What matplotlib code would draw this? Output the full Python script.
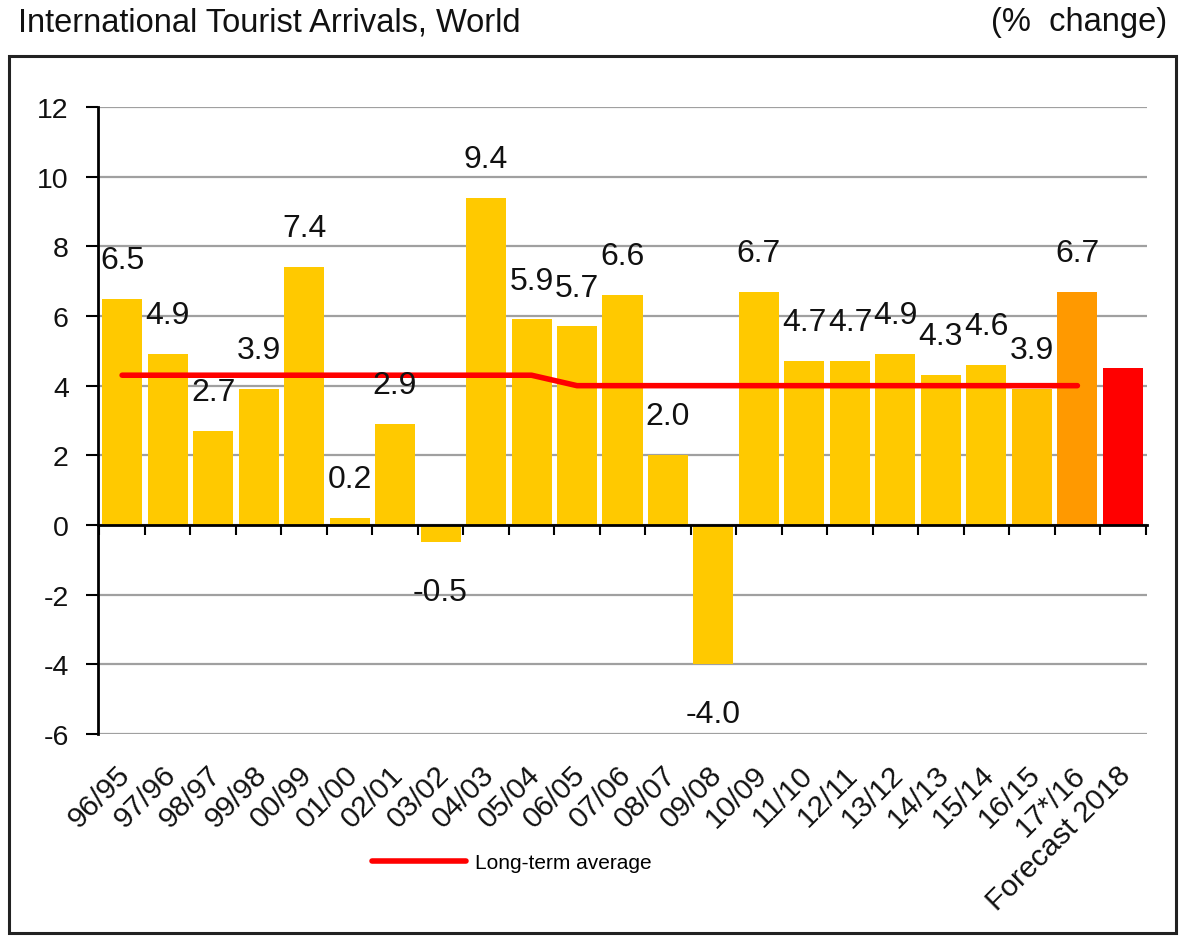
import numpy as np
import matplotlib
matplotlib.use("Agg")
import matplotlib.pyplot as plt
from matplotlib import font_manager
from matplotlib.transforms import ScaledTranslation
from matplotlib.patches import Rectangle

# ---------------- data ----------------
categories = ['96/95', '97/96', '98/97', '99/98', '00/99', '01/00', '02/01', '03/02',
              '04/03', '05/04', '06/05', '07/06', '08/07', '09/08', '10/09', '11/10',
              '12/11', '13/12', '14/13', '15/14', '16/15', '17*/16', 'Forecast 2018']
values = [6.5, 4.9, 2.7, 3.9, 7.4, 0.2, 2.9, -0.5, 9.4, 5.9, 5.7, 6.6, 2.0, -4.0,
          6.7, 4.7, 4.7, 4.9, 4.3, 4.6, 3.9, 6.7, 4.5]
long_term_avg = [4.3, 4.3, 4.3, 4.3, 4.3, 4.3, 4.3, 4.3, 4.3, 4.3,
                 4.0, 4.0, 4.0, 4.0, 4.0, 4.0, 4.0, 4.0, 4.0, 4.0, 4.0, 4.0]
yticks = [-6, -4, -2, 0, 2, 4, 6, 8, 10, 12]
title = 'International Tourist Arrivals, World'
unit_label = '(%  change)'
legend_label = 'Long-term average'

# ---------------- fonts ----------------
names = {f.name for f in font_manager.fontManager.ttflist}
if 'Liberation Sans Narrow' in names:
    fam = ['Liberation Sans Narrow', 'DejaVu Sans']
    k = 1.18
else:
    fam = ['Liberation Sans', 'DejaVu Sans']
    k = 1.0
plt.rcParams['font.family'] = fam
plt.rcParams['axes.unicode_minus'] = False

W, H = 1180, 937
fig = plt.figure(figsize=(W / 100, H / 100), dpi=100)

# outer frame
fig.patches.append(Rectangle((9 / W, 1 - 934 / H), (1176 - 9) / W, (934 - 57) / H,
                             transform=fig.transFigure, fill=False,
                             edgecolor='#222222', linewidth=2.2))

fig.text(18 / W, 1 - 23 / H, title, fontsize=23.5 * k, ha='left', va='center', color='#111111')
fig.text(1167 / W, 1 - 23 / H, unit_label, fontsize=23.5 * k, ha='right', va='center', color='#111111')

ax = fig.add_axes([98 / W, 1 - 735 / H, (1147 - 98) / W, (735 - 108) / H])
x = np.arange(len(categories))
colors = ['#FFC900'] * (len(categories) - 3) + ['#FFC000', '#FF9900', '#FF0000']
ax.bar(x, values, width=0.88, color=colors, zorder=2)

ax.plot(x[:len(long_term_avg)], long_term_avg, color='#FF0000', lw=4,
        solid_capstyle='round', solid_joinstyle='round', zorder=3, label=legend_label)

ax.set_xlim(-0.53, len(categories) - 0.47)
ax.set_ylim(yticks[0], yticks[-1])
ax.set_yticks(yticks)
ax.yaxis.grid(True, color='#a0a0a0', linewidth=1.6, zorder=0)
ax.set_axisbelow(True)

for s in ['top', 'right']:
    ax.spines[s].set_visible(False)
ax.spines['left'].set_linewidth(2)
ax.spines['bottom'].set_position(('data', 0))
ax.spines['bottom'].set_linewidth(2)
ax.spines['bottom'].set_zorder(4)

ax.tick_params(axis='y', direction='out', length=9, width=1.5, pad=12,
               labelsize=20.5 * k, labelcolor='#111111')
ax.set_xticks([])
ax.set_xticks(np.arange(-0.5, len(categories) + 0.5, 1.0), minor=True)
ax.tick_params(axis='x', which='minor', direction='out', length=7, width=1.5)

# x category labels at the bottom of the plot area
for i, lab in enumerate(categories):
    tr = ax.get_xaxis_transform() + ScaledTranslation(-6 / 100, -26 / 100, fig.dpi_scale_trans)
    ax.text(i, 0, lab, transform=tr, rotation=45, ha='right', va='top',
            rotation_mode='anchor', fontsize=21.5 * k, color='#111111')

# value labels (no label on the forecast bar)
for i, v in enumerate(values[:-1]):
    off = 28 if v >= 0 else -36
    ax.annotate(f'{v:.1f}', (i, v), xytext=(0, off), textcoords='offset points',
                ha='center', va='center', fontsize=23 * k, color='#111111', zorder=5)

leg = ax.legend(loc='center left', bbox_to_anchor=(372 / W, 1 - 864 / H),
                bbox_transform=fig.transFigure, frameon=False, fontsize=15 * k,
                handlelength=4.5, handletextpad=0.45, borderpad=0, borderaxespad=0)

fig.savefig('out.png', dpi=100)
